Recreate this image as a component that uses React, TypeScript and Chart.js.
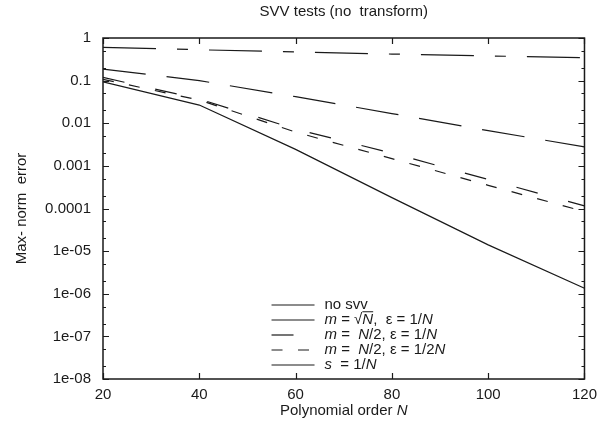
import React, { useEffect, useRef } from "react";
import { Chart, registerables } from "chart.js";

Chart.register(...registerables);

// ---- data ----
const polyOrders = [20, 40, 60, 80, 100, 120];
const noSvv = [0.187, 0.1, 0.042, 0.0169, 0.0067, 0.0028];
const mSqrtN = [0.605, 0.53, 0.47, 0.42, 0.38, 0.345];
const mHalfNEps1 = [0.119, 0.037, 0.0073, 0.002, 0.00048, 0.000115];
const mHalfNEps2 = [0.107, 0.035, 0.0062, 0.00148, 0.00035, 0.000085];
const sOneOverN = [0.094, 0.0267, 0.00244, 0.00018, 0.000014, 0.00000135];

const xTickValues = [20, 40, 60, 80, 100, 120];
const xTickLabels = ["20", "40", "60", "80", "100", "120"];
const yTickValues = [1, 0.1, 0.01, 0.001, 0.0001, 1e-5, 1e-6, 1e-7, 1e-8];
const yTickLabels = ["1", "0.1", "0.01", "0.001", "0.0001", "1e-05", "1e-06", "1e-07", "1e-08"];
const yMinorMultipliers = [2, 5];

const titleText = "SVV tests (no  transform)";
const yTitleText = "Max- norm  error";

type Piece = { t: string; i?: boolean; o?: boolean };
const xTitlePieces: Piece[] = [{ t: "Polynomial order " }, { t: "N", i: true }];

const legendPieces: Piece[][] = [
  [{ t: "no svv" }],
  [{ t: "m", i: true }, { t: " = " }, { t: "\u221A" }, { t: "N", i: true, o: true }, { t: ",  \u03B5 = 1/" }, { t: "N", i: true }],
  [{ t: "m", i: true }, { t: " =  " }, { t: "N", i: true }, { t: "/2, \u03B5 = 1/" }, { t: "N", i: true }],
  [{ t: "m", i: true }, { t: " =  " }, { t: "N", i: true }, { t: "/2, \u03B5 = 1/2" }, { t: "N", i: true }],
  [{ t: "s", i: true }, { t: "  = 1/" }, { t: "N", i: true }],
];

const seriesList = [noSvv, mSqrtN, mHalfNEps1, mHalfNEps2, sOneOverN];
const dashes: number[][] = [[43, 21], [53, 21, 11, 21], [22, 31.5], [11, 15.5], []];

const FONT = "'Liberation Sans', Arial, Helvetica, sans-serif";
const INK = "#1a1a1a";
const FS = 15;

function drawRich(ctx: CanvasRenderingContext2D, pieces: Piece[], x: number, y: number, size: number, align: "left" | "center") {
  const fontFor = (p: Piece) => `${p.i ? "italic " : ""}${size}px ${FONT}`;
  let total = 0;
  pieces.forEach((p) => {
    ctx.font = fontFor(p);
    total += ctx.measureText(p.t).width;
  });
  let cx = align === "center" ? x - total / 2 : x;
  ctx.textBaseline = "middle";
  ctx.textAlign = "left";
  pieces.forEach((p) => {
    ctx.font = fontFor(p);
    const w = ctx.measureText(p.t).width;
    ctx.fillText(p.t, cx, y);
    if (p.o) {
      ctx.beginPath();
      ctx.lineWidth = 1;
      ctx.moveTo(cx, y - size * 0.55);
      ctx.lineTo(cx + w, y - size * 0.55);
      ctx.stroke();
    }
    cx += w;
  });
}

const decorPlugin = {
  id: "decor",
  afterDatasetsDraw(chart: any) {
    const { ctx, chartArea } = chart;
    const { left, right, top, bottom } = chartArea;
    const xs = chart.scales.x;
    const ys = chart.scales.y;
    ctx.save();
    ctx.strokeStyle = INK;
    ctx.fillStyle = INK;
    ctx.lineWidth = 1.5;
    ctx.setLineDash([]);
    ctx.strokeRect(left, top, right - left, bottom - top);
    ctx.lineWidth = 1.2;
    ctx.beginPath();
    xTickValues.forEach((v) => {
      const px = Math.round(xs.getPixelForValue(v)) + 0.5;
      ctx.moveTo(px, bottom);
      ctx.lineTo(px, bottom - 6);
      ctx.moveTo(px, top);
      ctx.lineTo(px, top + 6);
    });
    yTickValues.forEach((v) => {
      const py = Math.round(ys.getPixelForValue(v)) + 0.5;
      ctx.moveTo(left, py);
      ctx.lineTo(left + 6, py);
      ctx.moveTo(right, py);
      ctx.lineTo(right - 6, py);
      yMinorMultipliers.forEach((m) => {
        const mv = v * m;
        if (mv < 1) {
          const pm = Math.round(ys.getPixelForValue(mv)) + 0.5;
          ctx.moveTo(left, pm);
          ctx.lineTo(left + 3, pm);
          ctx.moveTo(right, pm);
          ctx.lineTo(right - 3, pm);
        }
      });
    });
    ctx.stroke();

    // x axis title
    drawRich(ctx, xTitlePieces, (left + right) / 2, 411, FS, "center");

    // legend
    const lx0 = xs.getPixelForValue(55);
    const lx1 = lx0 + 43;
    const tx = lx1 + 10;
    legendPieces.forEach((pieces, k) => {
      const yy = 305 + k * 15;
      ctx.beginPath();
      ctx.lineWidth = 1.2;
      ctx.setLineDash(dashes[k]);
      ctx.moveTo(lx0, yy);
      ctx.lineTo(lx1, yy);
      ctx.stroke();
      ctx.setLineDash([]);
      drawRich(ctx, pieces, tx, yy, FS, "left");
    });
    ctx.restore();
  },
};

export default function App() {
  const ref = useRef<HTMLCanvasElement | null>(null);
  useEffect(() => {
    if (!ref.current) return;
    const chart = new Chart(ref.current, {
      type: "line",
      data: {
        datasets: seriesList.map((s, k) => ({
          label: legendPieces[k].map((p) => p.t).join(""),
          data: polyOrders.map((n, i) => ({ x: n, y: s[i] })),
          borderColor: INK,
          borderWidth: 1.2,
          borderDash: dashes[k],
          pointRadius: 0,
          tension: 0,
          fill: false,
        })),
      },
      options: {
        animation: false,
        responsive: false,
        layout: { padding: { left: 0, right: 15, top: 0, bottom: 0 } },
        plugins: {
          legend: { display: false },
          tooltip: { enabled: false },
          title: {
            display: true,
            text: titleText,
            fullSize: false,
            color: INK,
            font: { family: FONT, size: FS, weight: "normal" },
            padding: { top: 3, bottom: 17 },
          },
        },
        scales: {
          x: {
            type: "linear",
            min: 20,
            max: 120,
            afterBuildTicks: (s: any) => {
              s.ticks = xTickValues.map((v) => ({ value: v }));
            },
            afterFit: (s: any) => {
              s.height = 44;
            },
            ticks: {
              autoSkip: false,
              maxRotation: 0,
              padding: 7,
              color: INK,
              font: { family: FONT, size: FS },
              callback: (_v: any, i: number) => xTickLabels[i],
            },
            grid: { display: false, drawTicks: false },
            border: { display: false },
          },
          y: {
            type: "logarithmic",
            min: 1e-8,
            max: 1,
            afterBuildTicks: (s: any) => {
              s.ticks = yTickValues.map((v) => ({ value: v }));
            },
            afterFit: (s: any) => {
              s.width = 103;
            },
            ticks: {
              autoSkip: false,
              padding: 12,
              color: INK,
              font: { family: FONT, size: FS },
              callback: (_v: any, i: number) => yTickLabels[i],
            },
            title: {
              display: true,
              text: yTitleText,
              color: INK,
              font: { family: FONT, size: FS },
              padding: { top: 13, bottom: 0 },
            },
            grid: { display: false, drawTicks: false },
            border: { display: false },
          },
        },
      },
      plugins: [decorPlugin],
    } as any);
    return () => chart.destroy();
  }, []);
  return (
    <div style={{ position: "fixed", left: 0, top: 0, width: 604, height: 423, background: "#fff" }}>
      <canvas ref={ref} width={604} height={423} style={{ display: "block", width: 604, height: 423 }} />
    </div>
  );
}
